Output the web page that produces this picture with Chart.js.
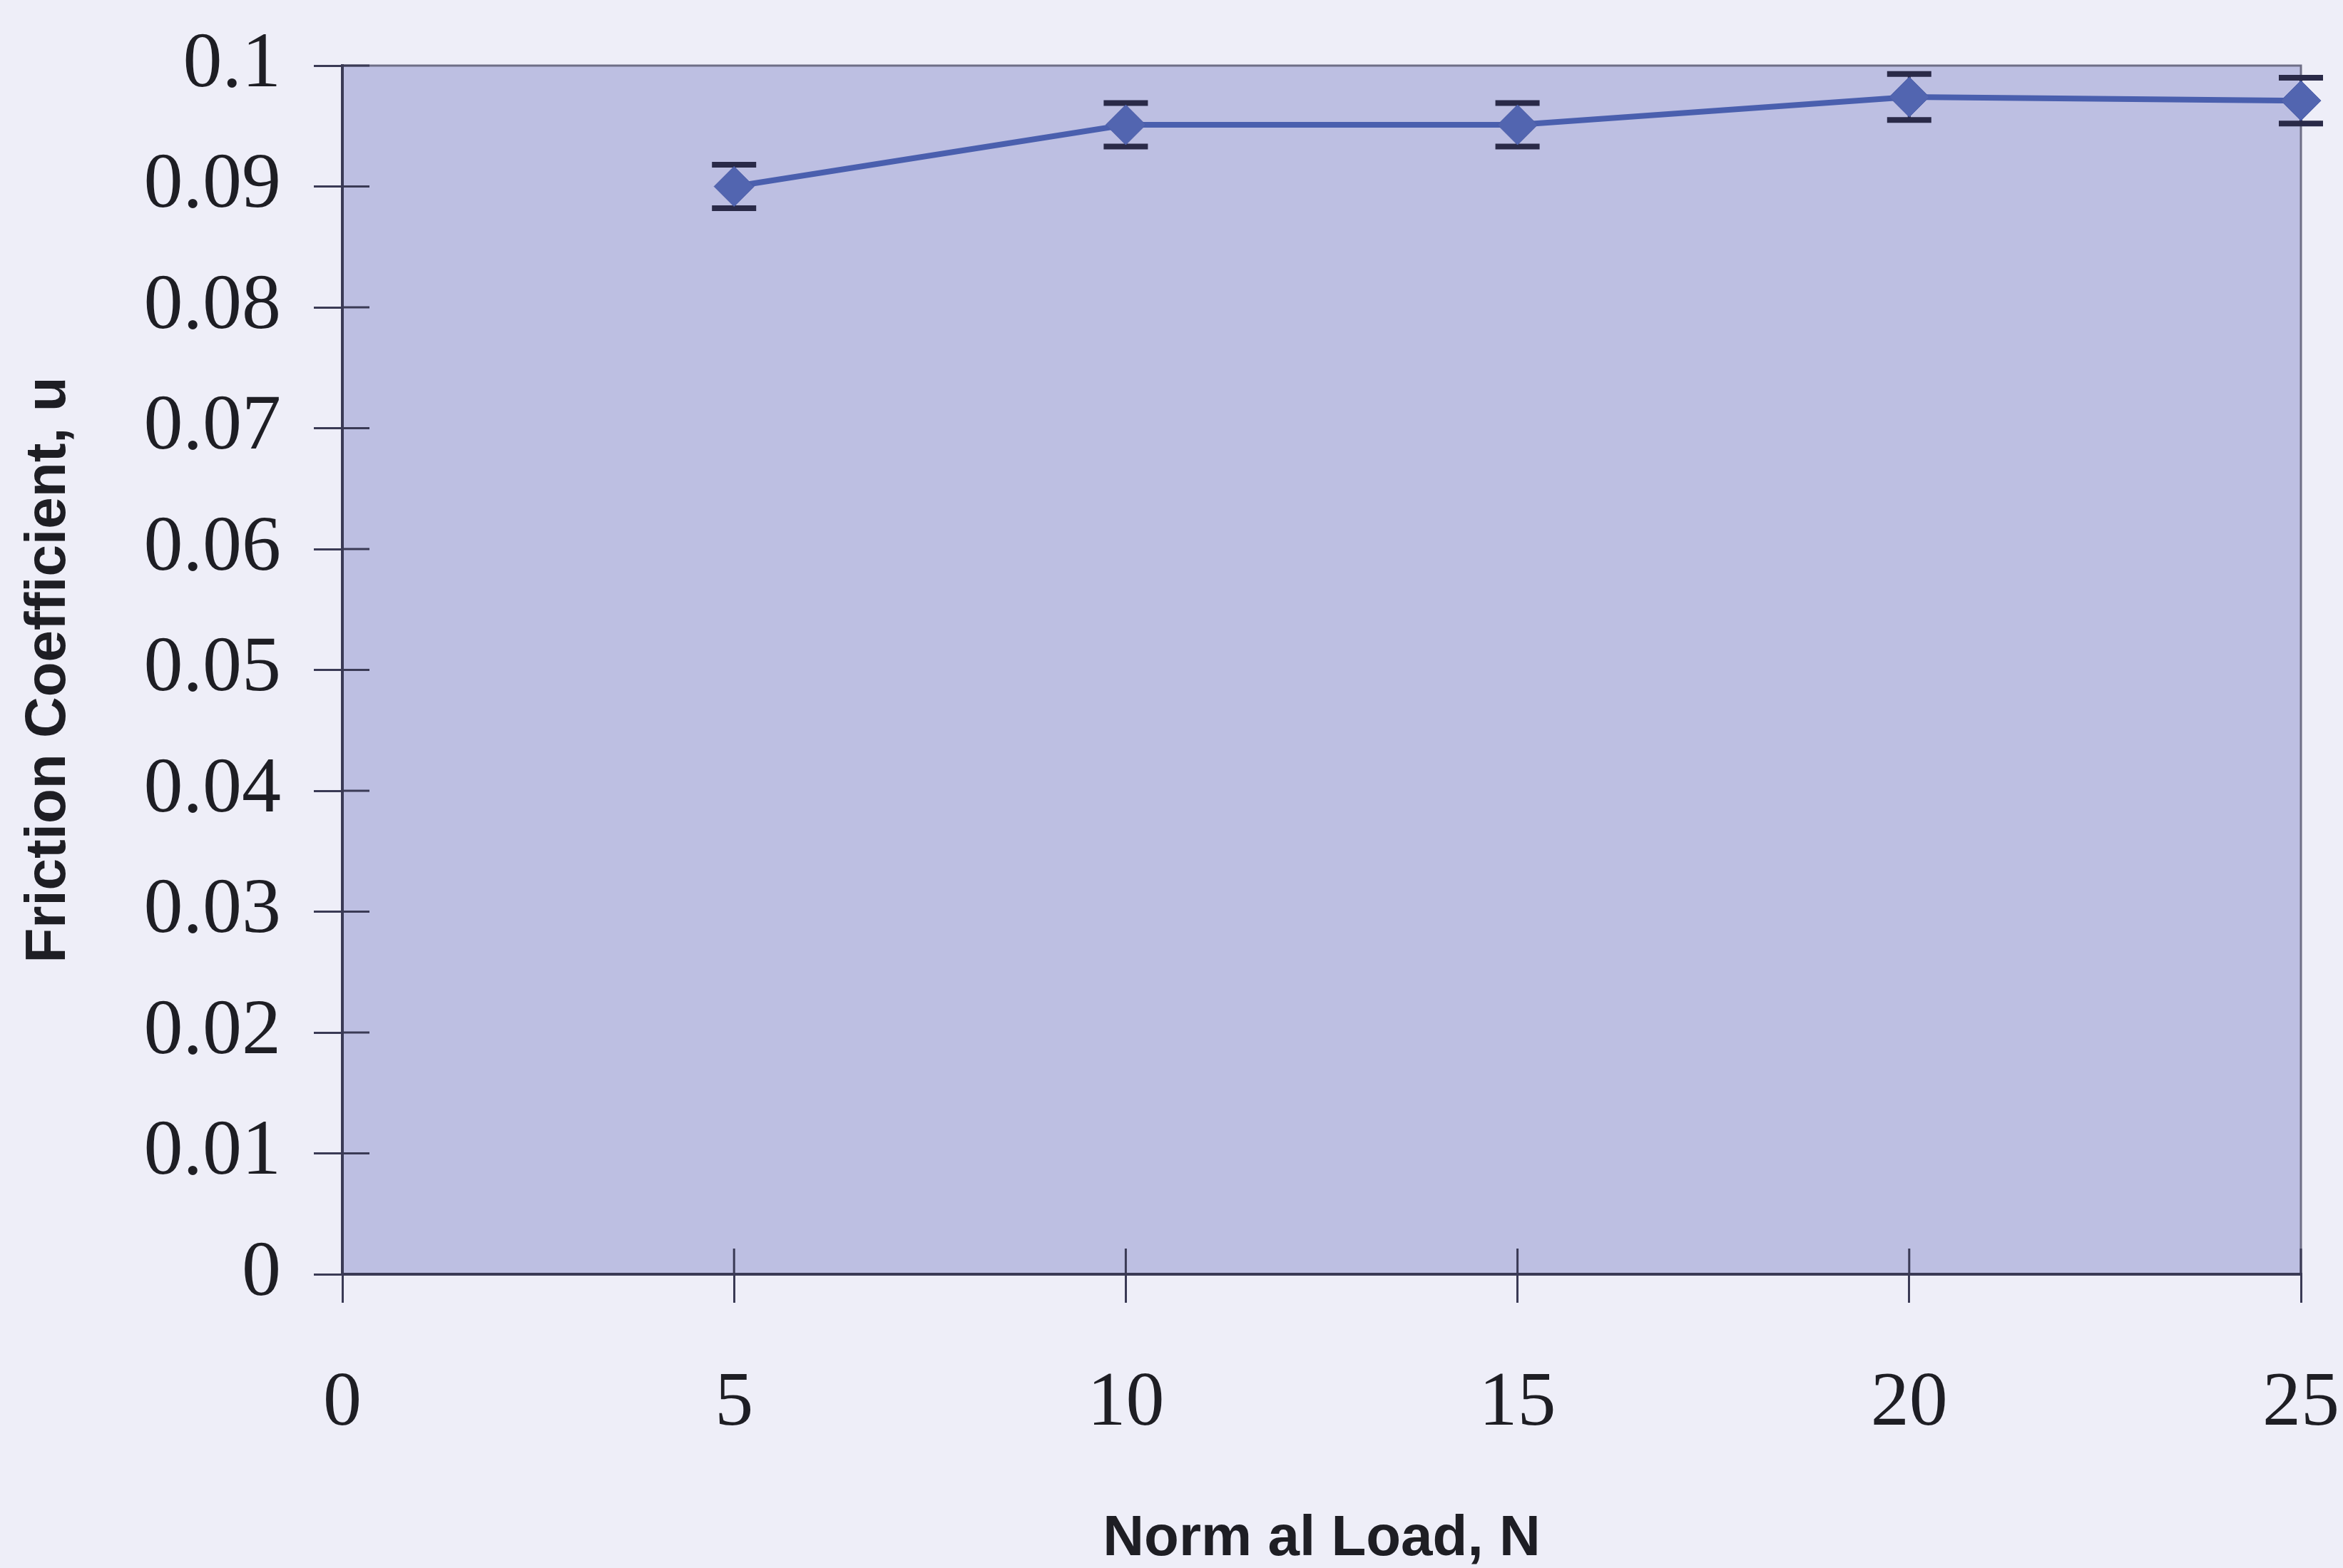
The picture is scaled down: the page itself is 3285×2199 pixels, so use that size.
<!DOCTYPE html>
<html>
<head>
<meta charset="utf-8">
<script src="https://cdn.jsdelivr.net/npm/chart.js@4/dist/chart.umd.min.js"></script>
<style>
  html, body { margin: 0; padding: 0; background: #eeeef8; }
  #wrap { width: 3285px; height: 2199px; }
</style>
</head>
<body>
<div id="wrap"><canvas id="c" width="3285" height="2199"></canvas></div>
<script>
const loads = [5, 10, 15, 20, 25];
const friction = [0.0900, 0.0951, 0.0951, 0.0974, 0.0971];
const errors = [0.0018, 0.0018, 0.0018, 0.0019, 0.0019];
const xTickLabels = ['0', '5', '10', '15', '20', '25'];
const yTickLabels = ['0', '0.01', '0.02', '0.03', '0.04', '0.05', '0.06', '0.07', '0.08', '0.09', '0.1'];
const xTitle = 'Norm al Load, N';
const yTitle = 'Friction Coefficient, u';

const axisColor = '#3a3a55';
const textColor = '#1e1e24';

const bgPlugin = {
  id: 'bg',
  beforeDraw(chart) {
    const { ctx, chartArea: a } = chart;
    ctx.save();
    ctx.fillStyle = '#eeeef8';
    ctx.fillRect(0, 0, chart.width, chart.height);
    ctx.fillStyle = '#bdbfe2';
    ctx.fillRect(a.left, a.top, a.right - a.left, a.bottom - a.top);
    ctx.strokeStyle = '#6e6e86';
    ctx.lineWidth = 3;
    ctx.beginPath();
    ctx.moveTo(a.left, a.top);
    ctx.lineTo(a.right, a.top);
    ctx.lineTo(a.right, a.bottom);
    ctx.stroke();
    ctx.restore();
  },
  beforeDatasetsDraw(chart) {
    const { ctx } = chart;
    const xs = chart.scales.x, ys = chart.scales.y;
    ctx.save();
    ctx.strokeStyle = '#2a2a48';
    for (let i = 0; i < loads.length; i++) {
      const px = xs.getPixelForValue(loads[i]);
      const pTop = ys.getPixelForValue(friction[i] + errors[i]);
      const pBot = ys.getPixelForValue(friction[i] - errors[i]);
      ctx.lineWidth = 4;
      ctx.beginPath();
      ctx.moveTo(px, pTop);
      ctx.lineTo(px, pBot);
      ctx.stroke();
      ctx.lineWidth = 8;
      ctx.beginPath();
      ctx.moveTo(px - 31, pTop);
      ctx.lineTo(px + 31, pTop);
      ctx.moveTo(px - 31, pBot);
      ctx.lineTo(px + 31, pBot);
      ctx.stroke();
    }
    ctx.restore();
  },
  afterDraw(chart) {
    const { ctx, chartArea: a } = chart;
    const xs = chart.scales.x, ys = chart.scales.y;
    ctx.save();
    ctx.strokeStyle = axisColor;
    ctx.lineWidth = 3;
    ctx.beginPath();
    ys.ticks.forEach((t, i) => {
      const py = ys.getPixelForTick(i);
      ctx.moveTo(a.left, py);
      ctx.lineTo(a.left + 38, py);
    });
    xs.ticks.forEach((t, i) => {
      const px = xs.getPixelForTick(i);
      ctx.moveTo(px, a.bottom);
      ctx.lineTo(px, a.bottom - 36);
    });
    ctx.stroke();
    ctx.restore();
  }
};

new Chart(document.getElementById('c'), {
  type: 'scatter',
  data: {
    datasets: [{
      data: loads.map((x, i) => ({ x: x, y: friction[i] })),
      showLine: true,
      borderColor: '#4a5fae',
      borderWidth: 8,
      backgroundColor: '#5265b0',
      pointStyle: 'rectRot',
      pointRadius: 28,
      pointBackgroundColor: '#5265b0',
      pointBorderColor: '#4a5ca8',
      pointBorderWidth: 1,
      clip: false,
      tension: 0
    }]
  },
  options: {
    responsive: false,
    animation: false,
    devicePixelRatio: 1,
    layout: { padding: { top: 92, right: 59, left: 0, bottom: 0 } },
    plugins: { legend: { display: false }, tooltip: { enabled: false } },
    scales: {
      x: {
        type: 'linear',
        min: 0, max: 25,
        afterFit(s) { s.height = 412; s.paddingLeft = 0; s.paddingRight = 0; },
        ticks: {
          stepSize: 5,
          padding: 78,
          color: textColor,
          font: { family: 'Liberation Serif', size: 108 },
          callback: (v, i) => xTickLabels[i]
        },
        grid: { drawOnChartArea: false, tickLength: 40, color: axisColor, lineWidth: 3 },
        border: { color: axisColor, width: 4 },
        title: {
          display: true,
          text: xTitle,
          color: textColor,
          font: { family: 'Liberation Sans', size: 80, weight: 'bold', lineHeight: 1 },
          padding: { top: 0, bottom: 0 }
        }
      },
      y: {
        type: 'linear',
        min: 0, max: 0.1,
        afterFit(s) { s.width = 480; s.paddingTop = 0; s.paddingBottom = 0; },
        ticks: {
          stepSize: 0.01,
          padding: 46,
          color: textColor,
          font: { family: 'Liberation Serif', size: 110 },
          callback: (v, i) => yTickLabels[i]
        },
        grid: { drawOnChartArea: false, tickLength: 40, color: axisColor, lineWidth: 3 },
        border: { color: axisColor, width: 4 },
        title: {
          display: true,
          text: yTitle,
          color: textColor,
          font: { family: 'Liberation Sans', size: 80, weight: 'bold', lineHeight: 1 },
          padding: { top: 29, bottom: 0 }
        }
      }
    }
  },
  plugins: [bgPlugin]
});
</script>
</body>
</html>
